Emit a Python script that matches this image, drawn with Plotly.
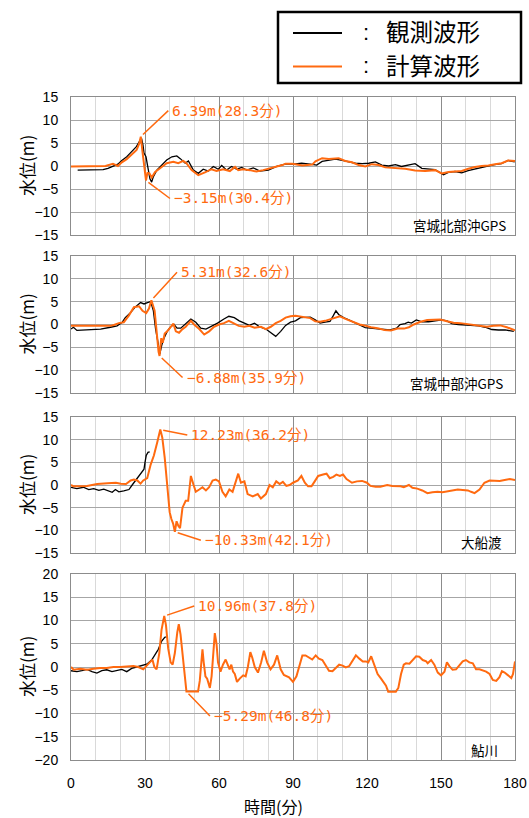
import plotly.graph_objects as go

# ---------------- data (minutes, metres) ----------------
stations = ["宮城北部沖GPS", "宮城中部沖GPS", "大船渡", "鮎川"]
x_ticks = [0, 30, 60, 90, 120, 150, 180]
y_ranges = [(-15, 15), (-15, 15), (-15, 15), (-20, 20)]

obs1 = [(2.7, -0.9), (5, -0.9), (8, -0.9), (11, -0.85), (13, -0.8), (15, -0.5), (17, 0.0), (19, 0.4),
        (20.6, 1.2), (22.6, 2.0), (24, 2.8), (25.3, 3.5), (26.5, 4.2), (27.7, 5.3), (28.6, 6.0), (29.2, 4.5),
        (29.6, 2.8), (30.4, 2.0), (31.3, -1.2), (32.0, -2.8), (32.7, -3.5), (33.4, -2.3), (34.8, -0.9),
        (36.8, 0.2), (38.8, 1.3), (40.9, 2.0), (42.9, 2.2), (44.3, 1.6), (46.3, 0.6), (47.6, 1.1),
        (49.6, -0.9), (51.6, -1.6), (53.6, -0.7), (55.7, -1.1), (57.7, -0.1), (59.7, -0.7), (61.1, 0.1),
        (63.1, -0.9), (65.1, -0.1), (67.2, -0.7), (69.2, -0.3), (71.2, -0.9), (73.9, -0.4), (76.6, -1.1),
        (80, -0.9), (83.4, -0.1), (86.8, 0.4), (90.1, 0.4), (93.5, 0.6), (96.9, 0.4), (99.6, 0.2),
        (101.8, 1.0), (104.5, 1.3), (107.2, 1.5), (110, 1.2), (112.6, 0.9), (115.3, 0.6), (118, 0.5),
        (120.7, 0.6), (123.4, 0.9), (126, 0.2), (128.8, 0.0), (131.5, 0.3), (134, -0.1), (136.8, 0.2),
        (139.5, 0.5), (142.2, -0.5), (144.9, -0.6), (147.6, -0.8), (151, -1.9), (153, -1.4), (155.7, -1.2),
        (158.4, -1.5), (161, -1.0), (163.8, -0.6), (166.5, -0.3), (169, 0.0), (171.8, 0.3), (174.5, 0.5),
        (177.2, 1.2), (179.9, 0.9)]
calc1 = [(0, -0.1), (5, -0.1), (10, -0.1), (14, 0.0), (17, 0.5), (19, 0.0), (20.6, 0.8), (22.6, 1.5),
         (24.6, 2.5), (26.6, 3.5), (27.6, 4.8), (28.3, 6.39), (29, 3.0), (29.7, 0.0), (30.0, -2.0),
         (30.4, -3.15), (31, -1.5), (31.8, -1.6), (32.7, -2.5), (34.1, -1.3), (36.1, -0.5), (38.8, 0.6),
         (41.5, 0.9), (43.5, 0.6), (45.5, 1.1), (46.8, 0.6), (48.9, -0.9), (51.6, -2.0), (54.3, -1.4),
         (57, -0.7), (59, -1.1), (61.7, -0.7), (64.4, -1.1), (66.5, -0.2), (67.8, -0.9), (69.8, -0.7),
         (72.5, -0.9), (75.2, -1.2), (77.9, -0.9), (80.3, -0.6), (83, -0.1), (85.7, 0.2), (87, 0.5),
         (89.7, 0.5), (93.8, 0.1), (97.8, 0.3), (99.1, 1.0), (101.8, 1.7), (104.5, 1.5), (108.5, 1.7),
         (111.2, 1.1), (113.9, 0.8), (116.6, 0.2), (119.3, -0.1), (122, 0.4), (124.7, 0.2), (127.4, -0.3),
         (131.5, -0.4), (135.5, -0.6), (139.5, -1.0), (143.6, -1.1), (147.6, -0.9), (150.3, -1.6),
         (153, -1.3), (155.7, -1.2), (158.4, -1.1), (161.1, -0.6), (163.8, -0.2), (166.5, 0.0),
         (169.2, 0.1), (171.9, 0.4), (174.6, 0.6), (177.2, 1.2), (180, 1.1)]

obs2 = [(0, -1.0), (1, -0.6), (2.4, -1.3), (6.5, -1.2), (12, -1.0), (16, -0.6), (18.7, -0.3), (20.8, 0.5),
        (22, 1.5), (24, 2.5), (26, 3.8), (28.2, 4.8), (29.6, 4.5), (31, 4.8), (32.3, 5.0), (33.4, 3.0),
        (34.3, -1.0), (35.3, -4.0), (36, -6.5), (36.8, -4.5), (37.7, -3.0), (39, -1.5), (40.4, -0.5),
        (41.8, 0.0), (43, -0.8), (44.5, -0.8), (46.5, 0.2), (48.6, 1.2), (50.6, 0.5), (52.6, -0.8),
        (54.7, -1.0), (56.7, -0.5), (59.4, 0.3), (62, 1.2), (64, 1.8), (66.2, 1.5), (68.2, 0.8),
        (70.3, 0.3), (72.3, -0.2), (74.4, 0.3), (76.4, -0.5), (79, -1.0), (81, -1.8), (83, -2.6),
        (85, -1.5), (87, -0.2), (89, 0.5), (91, 0.8), (93, 1.5), (95, 1.6), (97, 1.6), (99, 1.0),
        (101, 0.3), (103, 0.5), (105, 0.7), (106.4, 2.0), (107.4, 3.0), (108.5, 2.2), (110.5, 1.5),
        (112.6, 1.0), (114.6, 0.5), (116.6, 0.0), (119.3, -0.7), (123.4, -0.9), (126.7, -1.0),
        (129.4, -1.2), (132, -0.8), (133.4, 0.0), (135.4, 0.2), (136.7, 0.5), (138, 0.3), (140, 1.0),
        (142.3, 0.6), (145, 0.6), (147.7, 0.8), (150.4, 1.0), (152.4, 0.8), (154.4, 0.2), (157, 0.0),
        (159.8, -0.1), (162.5, -0.3), (165.2, -0.3), (167.9, -0.6), (170.6, -1.1), (173.3, -1.2),
        (176, -1.2), (179.5, -1.5)]
calc2 = [(0, -0.3), (5, -0.3), (10, -0.3), (16, -0.3), (17.4, -0.1), (19.4, 0.3), (21.4, 0.5), (23.5, 2.0),
         (25.5, 3.8), (27.6, 4.0), (29, 3.0), (30.5, 2.5), (31.6, 3.5), (32.6, 5.31), (33.9, 3.0),
         (34.7, -2.0), (35.5, -6.0), (35.9, -6.88), (36.6, -3.0), (37.2, -4.0), (38, -2.0), (39, -1.5),
         (40.4, -0.5), (41.5, 0.2), (42.5, -1.5), (43.8, -1.8), (45.2, -1.0), (46.5, -0.5), (48.6, 0.8),
         (49.9, 0.0), (52, -1.0), (54, -2.2), (56, -1.5), (58, -0.5), (60, 0.0), (62, 0.3), (64, 0.8),
         (66, 0.3), (68, -0.3), (70.3, -0.5), (72.3, -0.3), (74.4, -0.7), (77, -0.5), (79, -1.0),
         (81, -0.5), (83, 0.3), (85, 0.8), (87, 1.5), (89, 1.8), (91, 1.9), (93, 1.7), (95, 1.6),
         (97, 1.4), (99, 0.7), (101, 0.6), (103, 0.8), (105, 1.1), (107, 1.4), (109, 1.8), (111, 1.3),
         (113, 0.9), (115, 0.4), (117, 0.0), (119, -0.2), (121.6, -0.6), (124.3, -0.8), (127, -1.2),
         (129.7, -1.3), (132.4, -0.9), (135, -0.9), (137, -0.6), (139, 0.0), (141.7, 0.6), (144.4, 1.0),
         (147, 1.1), (149.7, 1.1), (152.4, 0.7), (155.1, 0.4), (157.8, 0.3), (160.5, 0.1), (163.2, -0.1),
         (165.9, -0.3), (168.6, -0.5), (171.3, -0.3), (174, -0.2), (176.7, -0.6), (180, -1.3)]

obs3 = [(0, -0.5), (2.4, -0.8), (5, -0.5), (7.2, -1.0), (9.2, -0.8), (11.3, -1.2), (13.3, -0.9),
        (15.3, -1.3), (16.7, -1.6), (18, -1.0), (19.4, -1.5), (21.4, -1.3), (23.5, -1.0), (24.8, 0.0),
        (26.2, 1.0), (27.5, 2.0), (28.9, 3.0), (29.6, 3.5), (30, 5.0), (30.5, 6.5), (31.2, 7.2), (31.9, 7.3)]
calc3 = [(0, 0.0), (1, -0.3), (6.5, -0.2), (10.6, 0.2), (14.8, 0.4), (18.2, 0.5), (20.2, 0.3), (22.3, 0.2),
         (24.2, 1.0), (25.5, 1.2), (26.9, 1.0), (28.2, 0.3), (29.3, 1.0), (30.9, 1.5), (32.3, 4.5),
         (33.6, 6.5), (35, 9.5), (36.2, 12.23), (37, 10.5), (38, 6.0), (39, 0.0), (40, -6.0), (40.7, -7.5),
         (41.4, -8.5), (42.1, -10.33), (42.8, -8.0), (43.5, -9.0), (44.2, -9.5), (45.2, -5.0), (45.9, -4.0),
         (46.5, -3.5), (47.5, -3.5), (48.6, 2.0), (49.7, 0.0), (50.6, -1.5), (52, -1.0), (53.3, -0.5),
         (54.7, -1.2), (56, -0.5), (57.4, 1.0), (58.7, 1.2), (60, 0.8), (61.4, -1.5), (62.7, -2.5),
         (64.2, -1.0), (65.5, -1.5), (66.9, 1.0), (67.8, 2.5), (68.9, 0.5), (70.3, 0.8), (71.6, -2.0),
         (73.7, -2.5), (75.7, -2.0), (77, -3.0), (79, -2.0), (80.5, 0.0), (81.8, -0.5), (83.2, 0.8),
         (84.6, 0.2), (85.9, 0.7), (87.3, -0.2), (88.6, 0.0), (90, 0.5), (92, 1.0), (93.4, 2.0),
         (94.8, 0.5), (96.1, -0.3), (97.5, -0.3), (98.8, 0.8), (100.2, 2.0), (102.2, 2.3), (103.6, 2.5),
         (104.9, 1.5), (106.3, 1.8), (107.6, 2.3), (109, 2.0), (110.3, 2.3), (111.7, 1.3), (113.9, 0.5),
         (115.9, 0.8), (118, 0.9), (120, 0.5), (121.4, -0.2), (123.5, -0.4), (125.4, -0.4), (128.2, 0.0),
         (130.2, -0.2), (132.2, -0.2), (133.6, -0.3), (134.9, -0.5), (137, 0.0), (138.4, -0.6),
         (140.4, -0.8), (142.4, -1.2), (144.5, -1.8), (146.5, -1.6), (148.6, -1.5), (150.6, -1.6),
         (152.7, -1.4), (154.8, -1.3), (156.8, -1.0), (158.8, -1.1), (160.9, -1.2), (162.2, -1.5),
         (163.6, -1.8), (165.6, -1.0), (167.6, 0.5), (169.7, 1.0), (171.7, 0.9), (173.8, 0.9),
         (175.8, 1.1), (177.9, 1.3), (180, 1.1)]

obs4 = [(0, -0.8), (2.4, -1.0), (4.4, -0.8), (6.5, -0.5), (8.5, -1.0), (10.5, -1.3), (12.5, -0.8),
        (14.5, -0.6), (16.6, -1.0), (18.6, -0.8), (20.6, -0.5), (22.6, -1.0), (24.6, -0.3), (26.6, 0.0),
        (28.7, 0.3), (30.7, 0.6), (32.7, 1.5), (34, 2.5), (35.4, 3.8), (36.7, 5.5), (38, 6.4), (38.8, 6.5)]
calc4 = [(0, 0.0), (1.1, -0.6), (3.8, -0.4), (6.5, -0.6), (9.2, -0.4), (11.8, -0.2), (14.5, -0.2),
         (17.2, 0.0), (19.9, 0.0), (22.6, 0.1), (25.3, 0.2), (27.3, 0.0), (29.3, -0.5), (30.7, 0.3),
         (32, 1.0), (33, 1.6), (33.8, 0.0), (34.7, -0.5), (35.8, 3.0), (36.7, 8.0), (37.8, 10.96),
         (38.5, 9.0), (39.4, 4.0), (40.4, 1.0), (41.2, 0.5), (42.1, 3.0), (43.1, 7.5), (43.7, 9.2),
         (44.4, 7.0), (45.2, 3.0), (45.9, -2.0), (46.8, -5.29), (48.9, -5.29), (51.5, -5.29), (52.2, -3.0),
         (52.9, 2.0), (53.3, 3.8), (53.8, 1.0), (54.5, -2.0), (55.2, -2.5), (56.3, -4.5), (57, -2.0),
         (57.6, 3.0), (58.3, 7.3), (59, 5.0), (59.6, 1.0), (60.6, -1.0), (61.6, 0.5), (62.7, 1.6),
         (63.7, 0.0), (64.3, -0.5), (65, 0.5), (65.7, -1.0), (66.4, -1.5), (67.3, -3.2), (68.4, -2.5),
         (69.8, -1.8), (70.8, -2.0), (71.7, 0.0), (72.7, 3.2), (73.5, 2.0), (74.5, 0.0), (75.8, -1.2),
         (77.1, 1.0), (78.2, 3.5), (79.5, 1.0), (80.9, -0.5), (82.3, 0.5), (83.6, 2.5), (85, -0.5),
         (86.3, -1.7), (88.4, -2.2), (90, -3.2), (91.4, -2.0), (92.4, 0.0), (93.8, 2.5), (95.1, 2.5),
         (96.5, 2.0), (97.8, 1.6), (99.2, 2.5), (100.5, 1.8), (101.9, 1.5), (103.3, 0.2), (104.6, -0.8),
         (106, -0.9), (107.4, -0.2), (108.7, 0.5), (110.1, 0.3), (111.4, -0.1), (112.8, 0.2), (114.2, 1.5),
         (115.5, 2.5), (116.9, 1.8), (118.3, 1.2), (119.6, 1.2), (120.5, 1.0), (121.7, 2.3), (123, 0.5),
         (124.3, -1.5), (125.7, -2.5), (126.7, -3.2), (127.7, -4.0), (128.6, -5.3), (131.7, -5.3),
         (132.7, -4.5), (133.8, -1.5), (134.9, 0.5), (135.8, 0.8), (137.2, 0.7), (138.5, 1.5),
         (139.9, 2.3), (141.2, 2.2), (142.6, 1.5), (144, 1.2), (144.6, 0.8), (146, 1.5), (147.3, 0.5),
         (148.7, -1.2), (150, -1.8), (151.4, -1.0), (152.4, 1.0), (153.4, 0.2), (154.7, -0.6),
         (156.1, -0.5), (157.4, 0.3), (158.8, 1.2), (160.1, 1.5), (161.5, 1.0), (162.9, 0.8),
         (164.2, -0.5), (165.6, -0.5), (166.9, -0.8), (168.3, -1.0), (169.7, -1.5), (171, -2.8),
         (172.4, -3.0), (173.7, -2.2), (174.7, -0.9), (175.8, -1.2), (177.2, -1.8), (178.5, -2.4),
         (179.2, -1.5), (180, 1.2)]

# annotated extremes of the computed waveform: (minute, metres)
peaks_max = [(28.3, 6.39), (32.6, 5.31), (36.2, 12.23), (37.8, 10.96)]
peaks_min = [(30.4, -3.15), (35.9, -6.88), (42.1, -10.33), (46.8, -5.29)]

legend_labels = ["観測波形", "計算波形"]
y_title = "水位(m)"
x_title = "時間(分)"

# ---------------- layout helpers ----------------
W, H = 529, 818
ML, MR = 71, 14
PW = W - ML - MR
panel_px = [(97, 235), (256, 393), (417, 553), (574, 760)]  # top, bottom in pixels

def py(p):
    return 1 - p / H

def px(p):
    return (p - ML) / PW

BLACK = "#000000"
ORANGE = "#FF6A10"
JP = "Noto Sans CJK JP"
MONO = "DejaVu Sans Mono, Noto Sans CJK JP"

fig = go.Figure()
obs_all = [obs1, obs2, obs3, obs4]
calc_all = [calc1, calc2, calc3, calc4]

for i in range(4):
    xa = "x" if i == 0 else f"x{i+1}"
    ya = "y" if i == 0 else f"y{i+1}"
    ot, ov = zip(*obs_all[i])
    ct, cv = zip(*calc_all[i])
    fig.add_trace(go.Scatter(x=ot, y=ov, mode="lines", line=dict(color=BLACK, width=1.3),
                             xaxis=xa, yaxis=ya, showlegend=False, name=legend_labels[0]))
    fig.add_trace(go.Scatter(x=ct, y=cv, mode="lines", line=dict(color=ORANGE, width=2),
                             xaxis=xa, yaxis=ya, showlegend=False, name=legend_labels[1]))

layout = dict(width=W, height=H, margin=dict(l=ML, r=MR, t=0, b=0),
              paper_bgcolor="white", plot_bgcolor="white", showlegend=False)

for i in range(4):
    top, bot = panel_px[i]
    xk = "xaxis" if i == 0 else f"xaxis{i+1}"
    yk = "yaxis" if i == 0 else f"yaxis{i+1}"
    ya = "y" if i == 0 else f"y{i+1}"
    xa = "x" if i == 0 else f"x{i+1}"
    layout[xk] = dict(range=[0, 180], tickmode="array", tickvals=x_ticks,
                      showticklabels=(i == 3), ticks="", anchor=ya, domain=[0, 1],
                      showgrid=True, gridcolor="#8c8c8c", gridwidth=1,
                      minor=dict(dtick=10, tick0=0, showgrid=True, gridcolor="#d9d9d9", gridwidth=1),
                      showline=True, mirror=True, linecolor="#8c8c8c", linewidth=1,
                      zeroline=False, ticklabelstandoff=10, automargin=False,
                      tickfont=dict(family="Liberation Sans", size=14, color="black"))
    lo, hi = y_ranges[i]
    layout[yk] = dict(range=[lo, hi], dtick=5, tick0=0, anchor=xa,
                      domain=[py(bot), py(top)], ticks="",
                      showgrid=True, gridcolor="#a6a6a6", gridwidth=1,
                      showline=True, mirror=True, linecolor="#8c8c8c", linewidth=1,
                      zeroline=False, ticklabelstandoff=9, automargin=False,
                      tickfont=dict(family="Liberation Sans", size=14, color="black"))

fig.update_layout(**layout)

annotations = []
label_pos = [(0.985, 0.072), (0.977, 0.073), (0.975, 0.081), (0.966, 0.054)]
max_off = [(27.5, -26), (25.6, -28), (27, 5.4), (30, -10)]
min_off = [(24, 18), (23, 21.6), (26, 8.5), (23.5, 24.5)]

for i in range(4):
    xa = "x" if i == 0 else f"x{i+1}"
    ya = "y" if i == 0 else f"y{i+1}"
    # station label
    annotations.append(dict(text=stations[i], xref=f"{xa} domain", yref=f"{ya} domain",
                            x=label_pos[i][0], y=label_pos[i][1], xanchor="right", yanchor="middle",
                            showarrow=False, font=dict(family=JP, size=13.5, color="black")))
    # y axis title
    annotations.append(dict(text=y_title, xref="paper", yref=f"{ya} domain", x=px(26), y=0.5,
                            textangle=-90, xanchor="center", yanchor="middle", showarrow=False,
                            font=dict(family=JP, size=17, color="black")))
    for (t, v), (ax, ay) in ((peaks_max[i], max_off[i]), (peaks_min[i], min_off[i])):
        txt = f"{v:.2f}m({t:.1f}分)".replace("-", "−")
        annotations.append(dict(text=txt, xref=xa, yref=ya, x=t, y=v, ax=ax, ay=ay,
                                axref="pixel", ayref="pixel",
                                showarrow=True, arrowhead=0, arrowwidth=1.5, arrowcolor=ORANGE,
                                standoff=3, xanchor="left", yanchor="middle", borderpad=3,
                                font=dict(family=MONO, size=14.5, color=ORANGE)))

# x axis title
annotations.append(dict(text=x_title, xref="paper", yref="paper", x=px(273), y=py(806),
                        xanchor="center", yanchor="middle", showarrow=False,
                        font=dict(family=JP, size=16, color="black")))

# legend box (drawn in the top-right corner)
shapes = [dict(type="rect", xref="paper", yref="paper", x0=px(278), x1=px(521), y0=py(83), y1=py(12),
               line=dict(color="black", width=2.5), fillcolor="white")]
row_y = [31.5, 65]
for row, (col, lbl) in enumerate(zip([BLACK, ORANGE], legend_labels)):
    yc = row_y[row]
    shapes.append(dict(type="line", xref="paper", yref="paper", x0=px(293), x1=px(342),
                       y0=py(yc + 1.5), y1=py(yc + 1.5), line=dict(color=col, width=2)))
    annotations.append(dict(text=":", xref="paper", yref="paper", x=px(366), y=py(yc + 1),
                            xanchor="center", yanchor="middle", showarrow=False,
                            font=dict(family="Liberation Sans", size=22, color="black")))
    annotations.append(dict(text=lbl, xref="paper", yref="paper", x=px(384), y=py(yc),
                            xanchor="left", yanchor="middle", showarrow=False,
                            font=dict(family=JP, size=23.5, color="black")))

fig.update_layout(annotations=annotations, shapes=shapes)
fig.write_html("out.html", config={"displayModeBar": False},
               post_script="document.body.style.margin='0';document.body.style.padding='0';")
